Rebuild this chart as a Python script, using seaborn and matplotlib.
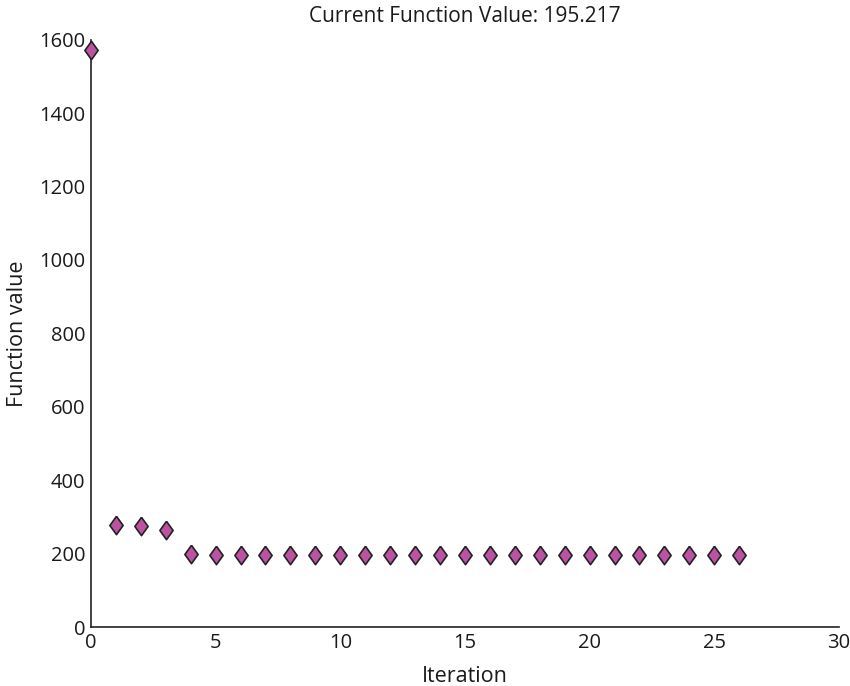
import numpy as np
import pandas as pd
import seaborn as sns
import matplotlib
matplotlib.use("Agg")
import matplotlib.pyplot as plt

# Valores
iteracoes = list(range(27))
valores = [1572, 279, 275, 264, 198, 195.6, 195.5, 195.4, 195.4, 195.3, 195.3,
           195.3, 195.3, 195.3, 195.3, 195.2, 195.2, 195.2, 195.2, 195.2, 195.2,
           195.2, 195.2, 195.2, 195.2, 195.2, 195.217]
titulo = "Current Function Value: 195.217"

df = pd.DataFrame({"Iteration": iteracoes, "Function value": valores})

sns.set_style("white")
plt.rcParams["font.family"] = ["Open Sans", "DejaVu Sans"]

cor_texto = "#1a1a1a"

# losango um pouco mais largo que o 'd' padrão
losango = [(0, 1), (0.72, 0), (0, -1), (-0.72, 0), (0, 1)]

fig = plt.figure(figsize=(8.5, 6.86), dpi=100)
ax = fig.add_axes([0.107, 0.086, 0.880, 0.856])

sns.scatterplot(data=df, x="Iteration", y="Function value", ax=ax,
                marker=losango, s=175, color="#bb52a2", edgecolor="#222222",
                linewidth=1.2, zorder=3, clip_on=False)

ax.set_xlim(0, 30)
ax.set_ylim(0, 1600)
ax.set_xticks(range(0, 31, 5))
ax.set_yticks(range(0, 1601, 200))
ax.tick_params(direction="in", length=5, width=1, colors="#222222", labelsize=14.5,
               labelcolor=cor_texto, pad=4)
for lado in ["top", "right"]:
    ax.spines[lado].set_visible(False)
for lado in ["left", "bottom"]:
    ax.spines[lado].set_color("#222222")
    ax.spines[lado].set_linewidth(1.2)

ax.set_xlabel("Iteration", fontsize=15.5, color=cor_texto, labelpad=10)
ax.set_ylabel("Function value", fontsize=15.5, color=cor_texto, labelpad=8)
ax.set_title(titulo, fontsize=15, color=cor_texto, pad=13)

fig.savefig("out.png", dpi=100)
